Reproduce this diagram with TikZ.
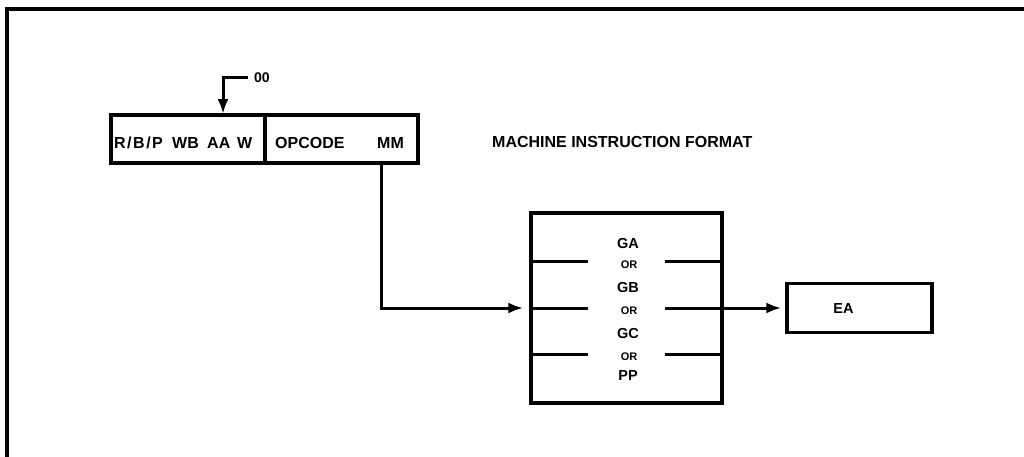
\documentclass[tikz,border=0pt]{standalone}
\usepackage{fontspec}
\setmainfont{Liberation Sans}
\usetikzlibrary{arrows.meta}
\begin{document}
\begin{tikzpicture}[x=1pt,y=-1pt,
  frame/.style={line width=3.4pt, line join=miter},
  boxline/.style={draw, line width=3.4pt, inner sep=0pt},
  conn/.style={line width=3pt, line join=miter, -{Latex[length=15pt,width=11pt]}},
  sepline/.style={line width=3pt},
  bigtxt/.style={font=\fontsize{16}{18}\selectfont\bfseries, inner sep=0pt, anchor=base west},
  midtxt/.style={font=\fontsize{14.5}{16}\selectfont\bfseries, inner sep=0pt, anchor=base},
  ortxt/.style={font=\fontsize{11}{13}\selectfont\bfseries, inner sep=0pt, anchor=base}]
\useasboundingbox (0,0) rectangle (1024,456);
% outer frame
\draw[frame] (1026,9) -- (7,9) -- (7,458);
% instruction format box
\node[boxline, minimum width=154pt, minimum height=48pt] (lf) at (188,139) {};
\node[boxline, minimum width=153pt, minimum height=48pt] (rf) at (341.5,139) {};
\node[bigtxt] (trbp) at (114,148) {R\kern1.5pt/\kern1.5pt B\kern1.5pt/\kern1.5pt P};
\node[bigtxt] (twb) at (172,148) {WB};
\node[bigtxt] (taa) at (207,148) {AA};
\node[bigtxt] (tw) at (237,148) {W};
\node[bigtxt] (topc) at (275,148) {OPCODE};
\node[bigtxt] (tmm) at (377,148) {MM};
\node[bigtxt] (tmif) at (492,147) {MACHINE INSTRUCTION FORMAT};
% 00 arrow
\node[font=\fontsize{14}{16}\selectfont\bfseries, inner sep=0pt, anchor=base west] (t00) at (254,82) {00};
\coordinate (c00) at (248,77);
\coordinate (c00t) at (223,114);
\draw[conn] (c00) -| (c00t);
% selection box
\node[boxline, minimum width=191pt, minimum height=190pt] (mid) at (626.5,308) {};
\draw[sepline] (531,261) -- (588,261) (665,261) -- (722,261);
\draw[sepline] (531,308) -- (588,308) (665,308) -- (722,308);
\draw[sepline] (531,354) -- (588,354) (665,354) -- (722,354);
\node[midtxt] (tga) at (628,248) {GA};
\node[ortxt] (tor1) at (629,268) {OR};
\node[midtxt] (tgb) at (628,292) {GB};
\node[ortxt] (tor2) at (629,314) {OR};
\node[midtxt] (tgc) at (628,338) {GC};
\node[ortxt] (tor3) at (629,360) {OR};
\node[midtxt] (tpp) at (628,380) {PP};
% EA box
\node[boxline, minimum width=145pt, minimum height=49pt] (ea) at (859.5,308) {};
\node[midtxt] (tea) at (843.5,313) {EA};
% connectors
\coordinate (mmbot) at (381,163);
\draw[conn, shorten >=6pt] (mmbot) |- (mid.west);
\draw[conn, shorten >=4pt] (mid.east) -- (ea.west);
\end{tikzpicture}
\end{document}
